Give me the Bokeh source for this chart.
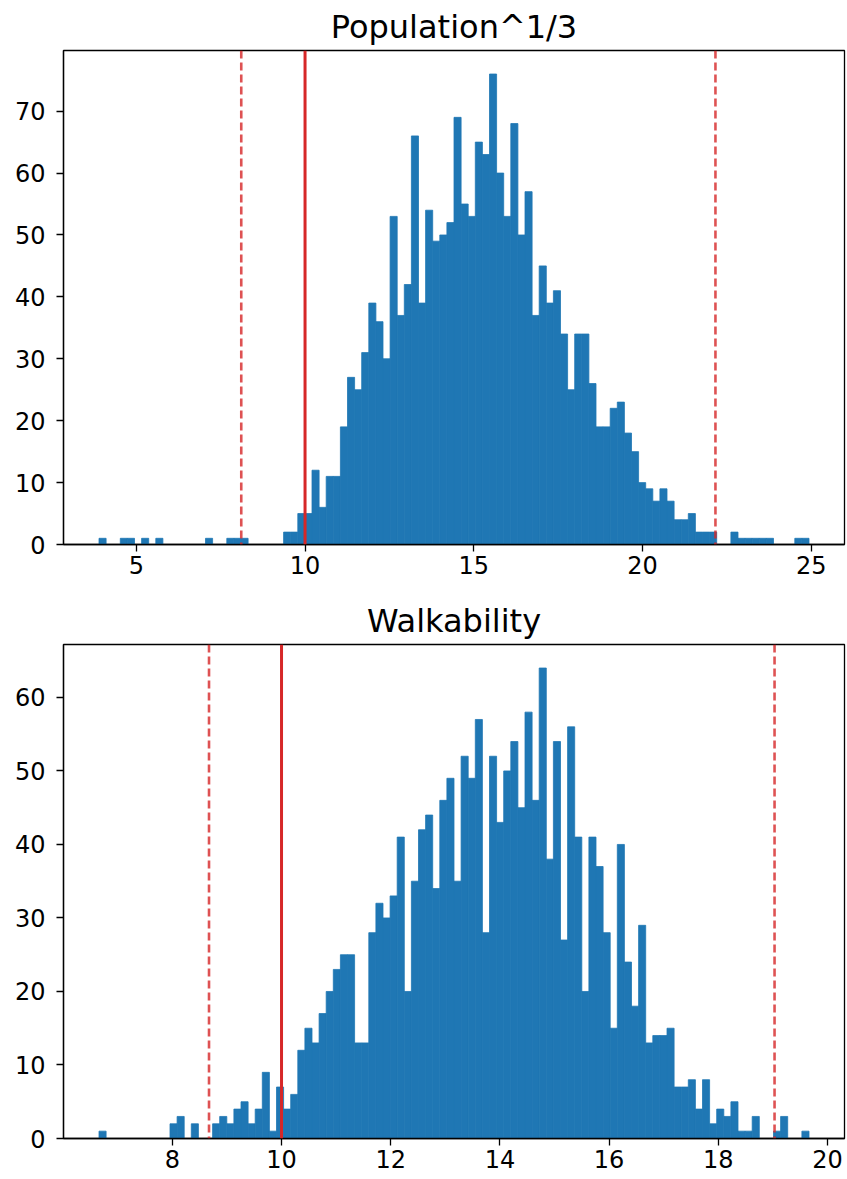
import numpy as np
from bokeh.plotting import figure
from bokeh.layouts import column
from bokeh.models import Range1d, FixedTicker, Span, ColumnDataSource
from bokeh.embed import file_html
from bokeh.resources import INLINE

# ---- Population^1/3 histogram (100 bins) ----
pop_title = "Population^1/3"
pop_min = 3.895
pop_max = 24.932
pop_counts = [1, 0, 0, 1, 1, 0, 1, 0, 1, 0,
              0, 0, 0, 0, 0, 1, 0, 0, 1, 1,
              1, 0, 0, 0, 0, 0, 2, 2, 5, 5,
              12, 6, 11, 11, 19, 27, 25, 31, 39, 36,
              30, 53, 37, 42, 66, 39, 54, 49, 50, 52,
              69, 55, 53, 65, 63, 76, 60, 53, 68, 50,
              57, 37, 45, 39, 41, 34, 25, 34, 34, 26,
              19, 19, 22, 23, 18, 15, 10, 9, 7, 9,
              7, 4, 4, 5, 2, 2, 2, 0, 0, 2,
              1, 1, 1, 1, 1, 0, 0, 0, 1, 1]
pop_solid = 10.0
pop_dashed = [8.11, 22.16]
pop_xticks = [5, 10, 15, 20, 25]
pop_yticks = [0, 10, 20, 30, 40, 50, 60, 70]

# ---- Walkability histogram (100 bins) ----
walk_title = "Walkability"
walk_min = 6.657
walk_max = 19.661
walk_counts = [1, 0, 0, 0, 0, 0, 0, 0, 0, 0,
               2, 3, 0, 2, 0, 0, 2, 3, 2, 4,
               5, 2, 4, 9, 1, 7, 4, 6, 12, 15,
               13, 17, 20, 23, 25, 25, 13, 13, 28, 32,
               30, 33, 41, 20, 35, 42, 44, 34, 46, 49,
               35, 52, 49, 57, 28, 52, 43, 50, 54, 45,
               58, 46, 64, 38, 54, 27, 56, 41, 20, 41,
               37, 28, 15, 40, 24, 18, 29, 13, 14, 14,
               15, 7, 7, 8, 4, 8, 2, 4, 3, 5,
               1, 1, 3, 0, 0, 1, 3, 0, 0, 1]
walk_solid = 10.0
walk_dashed = [8.672, 19.03]
walk_xticks = [8, 10, 12, 14, 16, 18, 20]
walk_yticks = [0, 10, 20, 30, 40, 50, 60]

BAR = "#1f77b4"
RED = "#d62728"
FONT = "DejaVu Sans"


def make_hist(title, counts, lo, hi, solid, dashed, xticks, yticks,
              height, b_top, b_bottom):
    counts = np.asarray(counts, dtype=float)
    edges = np.linspace(lo, hi, len(counts) + 1)
    keep = counts > 0
    src = ColumnDataSource(dict(left=edges[:-1][keep], right=edges[1:][keep],
                                top=counts[keep], bottom=np.zeros(keep.sum())))
    span = hi - lo
    p = figure(width=847, height=height, output_backend="svg",
               toolbar_location=None,
               x_range=Range1d(lo - 0.05 * span, hi + 0.05 * span),
               y_range=Range1d(0, counts.max() * 1.05),
               min_border_left=63, min_border_right=3,
               min_border_top=b_top, min_border_bottom=b_bottom)
    p.quad(left="left", right="right", top="top", bottom="bottom", source=src,
           fill_color=BAR, line_color=BAR, line_width=0.8)
    for d in dashed:
        p.add_layout(Span(location=d, dimension="height", line_color=RED,
                          line_alpha=0.8, line_width=2.6, line_dash="8 4"))
    p.add_layout(Span(location=solid, dimension="height", line_color=RED,
                      line_width=3))
    p.title.text = title
    p.title.align = "center"
    p.title.text_font = FONT
    p.title.text_font_size = "32px"
    p.title.text_font_style = "normal"
    p.title.text_color = "black"
    p.title.standoff = 10
    p.xaxis.ticker = FixedTicker(ticks=xticks)
    p.yaxis.ticker = FixedTicker(ticks=yticks)
    p.xgrid.grid_line_color = None
    p.ygrid.grid_line_color = None
    p.axis.minor_tick_line_color = None
    p.axis.major_tick_in = 0
    p.axis.major_tick_out = 7
    p.axis.major_tick_line_width = 1.3
    p.axis.axis_line_width = 1.3
    p.axis.axis_line_color = "black"
    p.axis.major_tick_line_color = "black"
    p.axis.major_label_text_font = FONT
    p.axis.major_label_text_font_size = "24px"
    p.axis.major_label_text_color = "black"
    p.xaxis.major_label_standoff = 4
    p.yaxis.major_label_standoff = 11
    p.outline_line_color = "black"
    p.outline_line_width = 1.3
    p.outline_line_alpha = 1.0
    p.background_fill_color = "white"
    p.border_fill_color = "white"
    return p


p1 = make_hist(pop_title, pop_counts, pop_min, pop_max, pop_solid, pop_dashed,
               pop_xticks, pop_yticks, height=590, b_top=50, b_bottom=46)
p2 = make_hist(walk_title, walk_counts, walk_min, walk_max, walk_solid, walk_dashed,
               walk_xticks, walk_yticks, height=588, b_top=54, b_bottom=40)

layout = column(p1, p2, spacing=0)
open("out.html", "w").write(file_html(layout, INLINE))
